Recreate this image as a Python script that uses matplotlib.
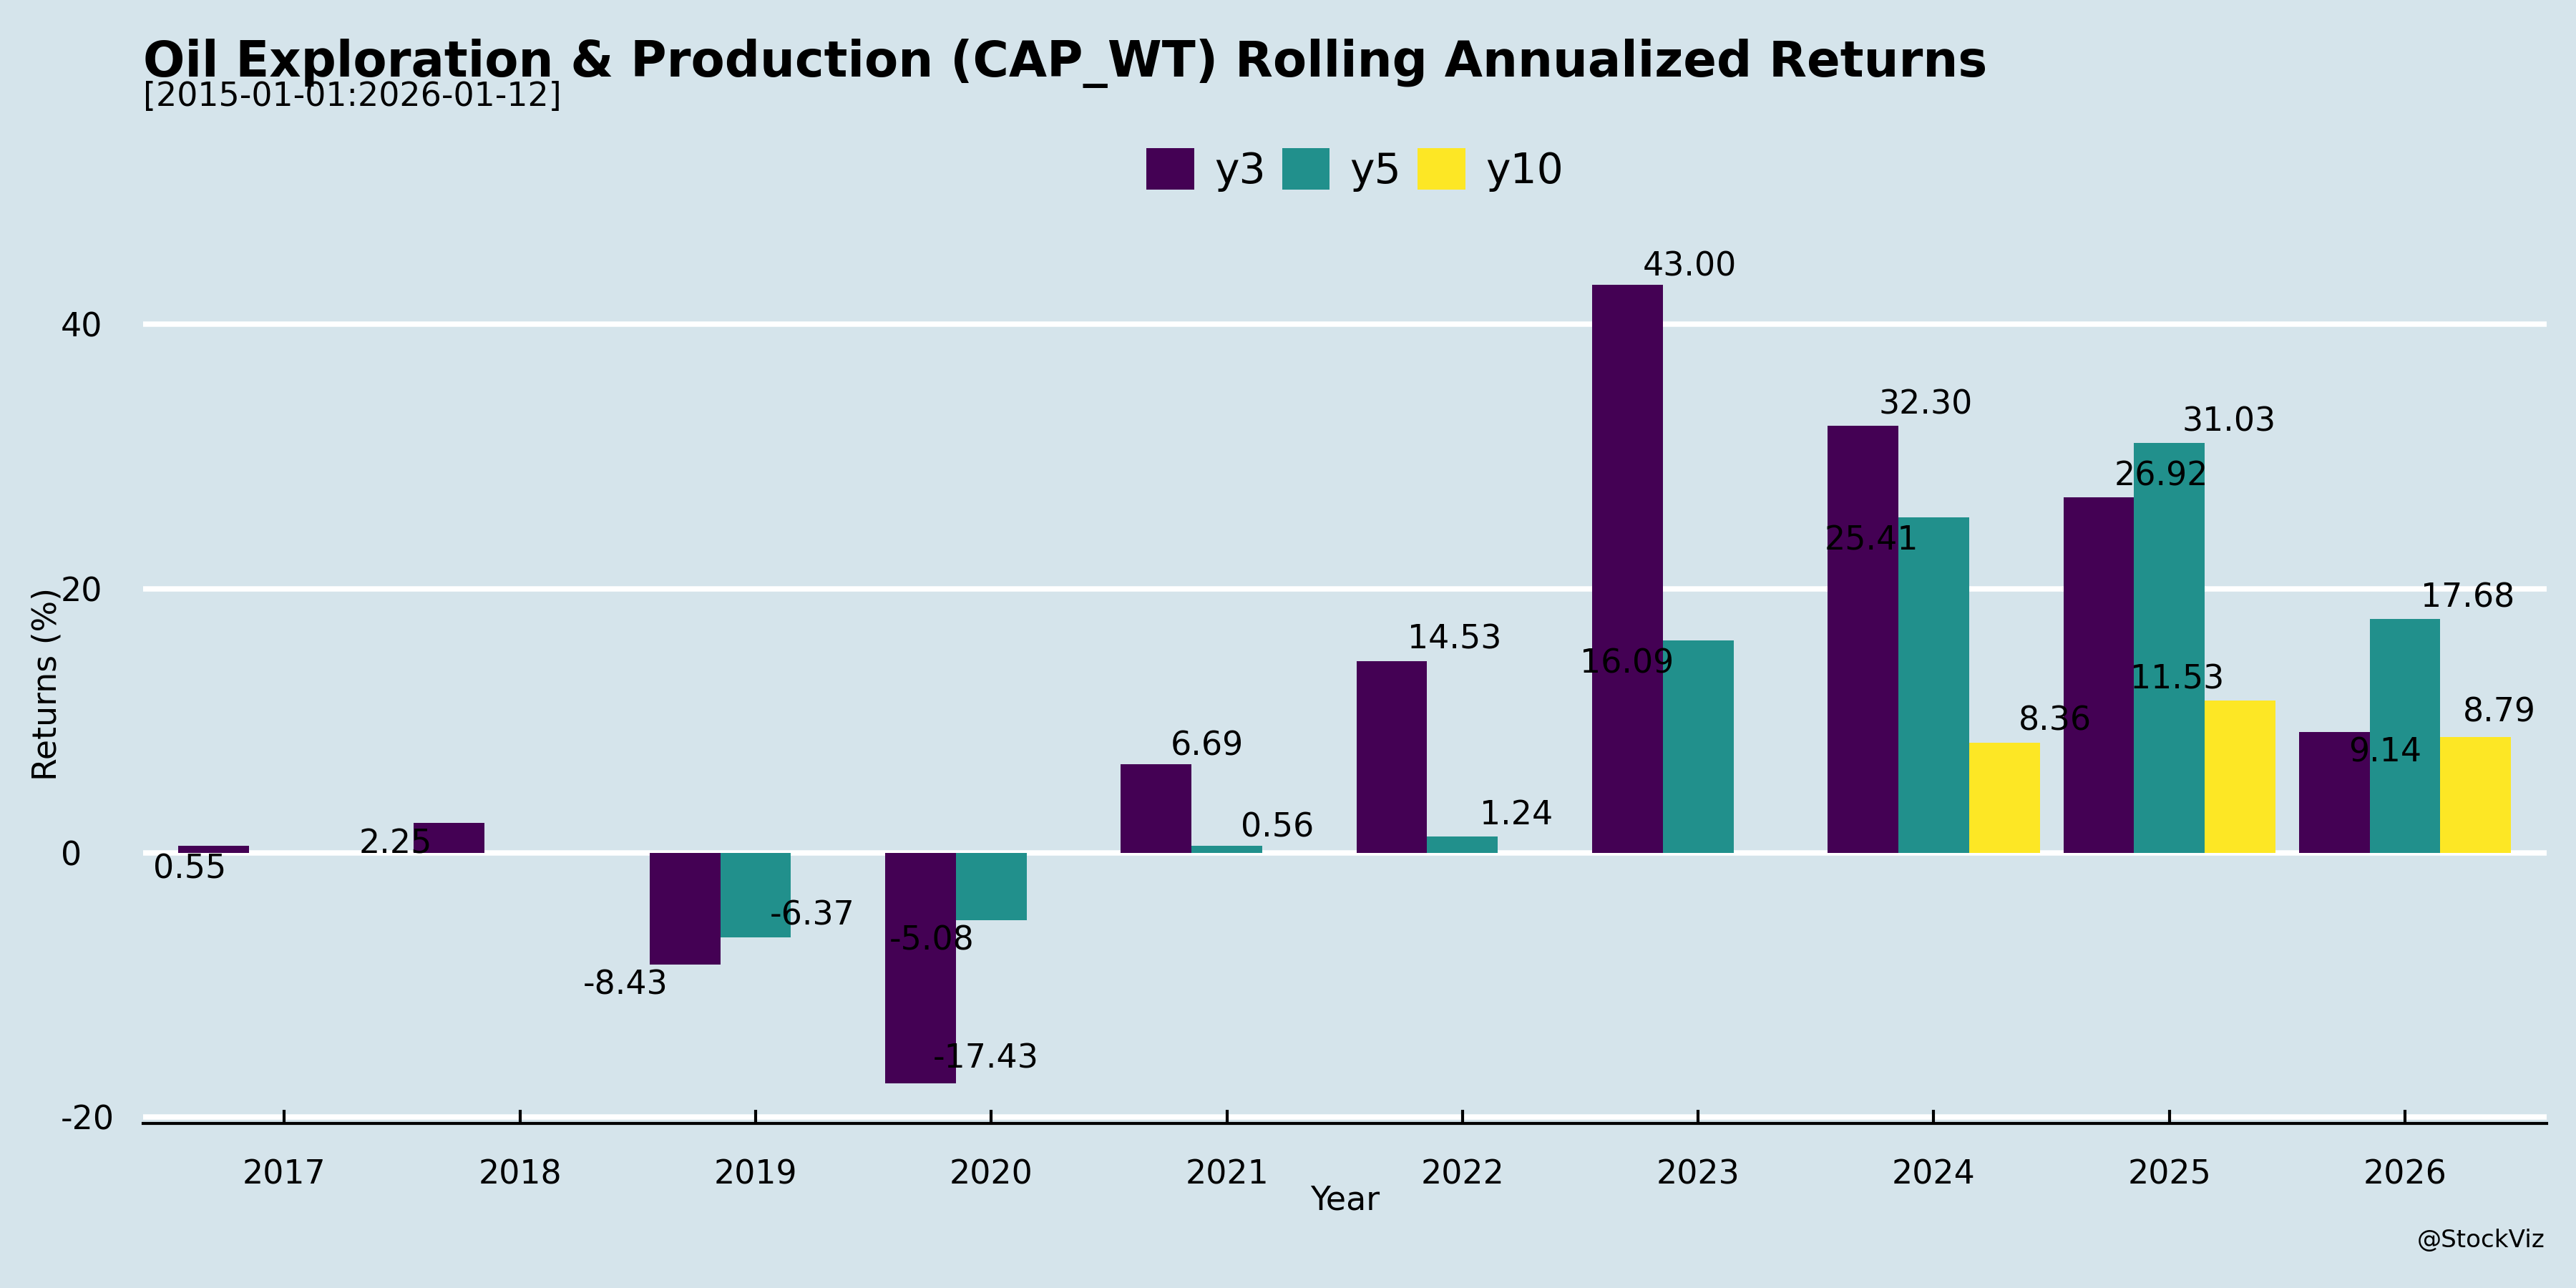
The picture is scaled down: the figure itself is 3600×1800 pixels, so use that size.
import numpy as np
import matplotlib
matplotlib.use('Agg')
import matplotlib.pyplot as plt

years = ['2017', '2018', '2019', '2020', '2021', '2022', '2023', '2024', '2025', '2026']
y3 = [0.55, 2.25, -8.43, -17.43, 6.69, 14.53, 43.00, 32.30, 26.92, 9.14]
y5 = [np.nan, np.nan, -6.37, -5.08, 0.56, 1.24, 16.09, 25.41, 31.03, 17.68]
y10 = [np.nan] * 7 + [8.36, 11.53, 8.79]
series = {'y3': y3, 'y5': y5, 'y10': y10}

colors = ['#440154', '#21908c', '#fde725']
bg = '#d5e4eb'

# label offsets (points) - labels in the original are scattered around the bar tops
nudge_x = {
    'y3': [-8, -18, -20, 22, 17, 21, 21, 21, 21, 17],
    'y5': [0, 0, 19, -20, 17, 18, -24, -21, 20, 21],
    'y10': [0] * 7 + [17, -21, 8],
}
nudge_y = {
    'y3': [-8, -7, -7, 8, 6, 7, 6, 7, 7, -7],
    'y5': [0, 0, 7, -7, 6, 7, -8, -8, 7, 7],
    'y10': [0] * 7 + [7, 7, 8],
}

plt.rcParams['font.family'] = 'DejaVu Sans'
plt.rcParams['axes.unicode_minus'] = False
fig = plt.figure(figsize=(12, 6), dpi=300, facecolor=bg)
ax = fig.add_axes([0.0555, 0.128, 0.933, 0.682])
ax.set_facecolor(bg)

x = np.arange(1, len(years) + 1)
width = 0.3
for i, (name, vals) in enumerate(series.items()):
    pos = x + (i - 1) * width
    ax.bar(pos, vals, width=width, color=colors[i], label=name, zorder=3)
    for j in range(len(vals)):
        if np.isnan(vals[j]):
            continue
        ax.annotate(f'{vals[j]:.2f}', (pos[j], vals[j]),
                    xytext=(nudge_x[name][j], nudge_y[name][j]),
                    textcoords='offset points', ha='center', va='center',
                    fontsize=11, zorder=4)

ax.set_xlim(0.4, 10.6)
lo = np.nanmin(y3 + y5 + y10)
hi = np.nanmax(y3 + y5 + y10)
pad = (hi - lo) * 0.05
ax.set_ylim(lo - pad, hi + pad)

ax.set_xticks(x)
ax.set_xticklabels(years)
ax.set_yticks([-20, 0, 20, 40])
ax.grid(axis='y', color='white', linewidth=1.8)
ax.grid(axis='x', visible=False)
ax.yaxis.set_zorder(1)
ax.xaxis.set_zorder(4)
for s in ['top', 'right', 'left']:
    ax.spines[s].set_visible(False)
ax.spines['bottom'].set_color('black')
ax.spines['bottom'].set_linewidth(1.0)
ax.spines['bottom'].set_zorder(5)

ax.tick_params(axis='x', direction='in', length=4.6, width=1.0, color='black', pad=12, labelsize=11)
ax.tick_params(axis='y', length=0, pad=27.6, labelsize=11)
for lbl in ax.get_yticklabels():
    lbl.set_horizontalalignment('left')

ax.set_xlabel('Year', fontsize=11)
ax.xaxis.set_label_coords(0.5, -0.070)
ax.set_ylabel('Returns (%)', fontsize=11)
ax.yaxis.set_label_coords(-0.033, 0.5)

fig.text(0.0555, 0.9406, 'Oil Exploration & Production (CAP_WT) Rolling Annualized Returns',
         fontsize=16.5, fontweight='bold', va='baseline', ha='left')
fig.text(0.0555, 0.918, '[2015-01-01:2026-01-12]', fontsize=11, va='baseline', ha='left')
fig.text(0.988, 0.037, '@StockViz', fontsize=8.2, ha='right', va='center')

fig.legend(loc='center', bbox_to_anchor=(0.526, 0.868), ncol=3, frameon=False,
           fontsize=14, handlelength=1.14, handleheight=1.14,
           handletextpad=0.48, columnspacing=0.4)

fig.savefig('out.png', dpi=300, facecolor=bg)
